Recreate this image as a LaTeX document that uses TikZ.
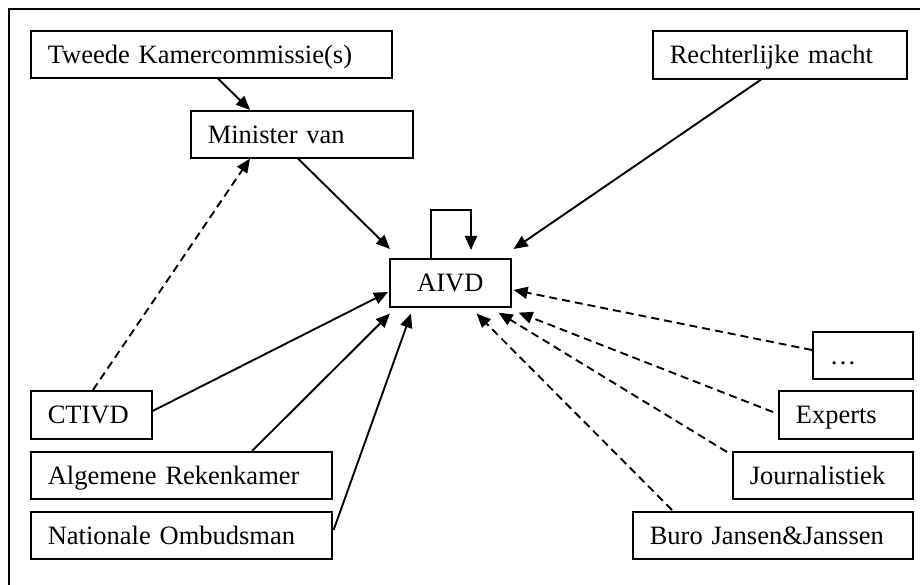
\documentclass[tikz,border=0pt]{standalone}
\usepackage{fontspec}
\setmainfont{Liberation Serif}
\usetikzlibrary{arrows.meta,calc}
\begin{document}
\begin{tikzpicture}[x=1pt,y=-1pt,
  box/.style={draw, line width=1.6pt, inner xsep=17pt, inner ysep=0pt, align=left,
    text height=17.5pt, text depth=0pt, anchor=north west,
    font=\fontsize{26.5}{30}\selectfont},
  arr/.style={line width=1.9pt, -{Triangle[length=14pt,width=12pt]}},
  darr/.style={arr, dash pattern=on 8pt off 5pt}]
\useasboundingbox (0,0) rectangle (920,585);
\draw[line width=1.6pt] (9,9) rectangle (940,605);
\node[box, minimum width=361pt, minimum height=47pt, text width=327pt] (tk) at (30,30) {Tweede Kamercommissie(s)};
\node[box, minimum width=222pt, minimum height=47pt, text width=188pt] (mv) at (190,110) {Minister van};
\node[box, minimum width=254pt, minimum height=48pt, text width=220pt] (rm) at (652,30) {Rechterlijke macht};
\node[box, minimum width=121pt, minimum height=48pt, text width=87pt, align=center] (aivd) at (389,258) {AIVD};
\node[box, minimum width=121pt, minimum height=48pt, text width=87pt] (ct) at (30,390) {CTIVD};
\node[box, minimum width=301pt, minimum height=47pt, text width=267pt] (ar) at (30,451) {Algemene Rekenkamer};
\node[box, minimum width=301pt, minimum height=47pt, text width=267pt] (no) at (30,511) {Nationale Ombudsman};
\node[box, minimum width=100pt, minimum height=47pt, text width=66pt] (dots) at (812,331) {…};
\node[box, minimum width=134pt, minimum height=48pt, text width=100pt] (ex) at (778,390) {Experts};
\node[box, minimum width=180pt, minimum height=47pt, text width=146pt] (jo) at (732,451) {Journalistiek};
\node[box, minimum width=280pt, minimum height=47pt, text width=246pt] (bj) at (632,511) {Buro Jansen\&Janssen};
% solid connectors
\draw[arr] ($(tk.south west)+(188,0)$) -- ($(mv.north west)+(60,0)$);
\draw[arr] ($(mv.south west)+(108,0)$) -- ($(aivd.north west)+(1,-9)$);
\draw[arr] ($(rm.south west)+(109,0)$) -- ($(aivd.north east)+(2,-9)$);
\draw[arr] ($(aivd.north west)+(42,0)$) -- ++(0,-48) -- ++(40,0) -- ++(0,40);
\draw[arr] ($(ct.north east)+(0,21)$) -- ($(aivd.north west)+(-1,34)$);
\draw[arr] ($(ar.north west)+(222,0)$) -- ($(aivd.south west)+(1,6)$);
\draw[arr] ($(no.north east)+(1,19)$) -- ($(aivd.south west)+(22,6)$);
% dashed connectors
\draw[darr] ($(ct.north west)+(63,0)$) -- ($(mv.south west)+(60,0)$);
\draw[darr] ($(dots.north west)+(0,19)$) -- ($(aivd.north east)+(2,32)$);
\draw[darr] ($(ex.north west)+(-5,22)$) -- ($(aivd.south east)+(7,5)$);
\draw[darr] ($(jo.north west)+(-5,1)$) -- ($(aivd.south east)+(-13,5)$);
\draw[darr] ($(bj.north west)+(40,-1)$) -- ($(aivd.south east)+(-35,6)$);
\end{tikzpicture}
\end{document}
